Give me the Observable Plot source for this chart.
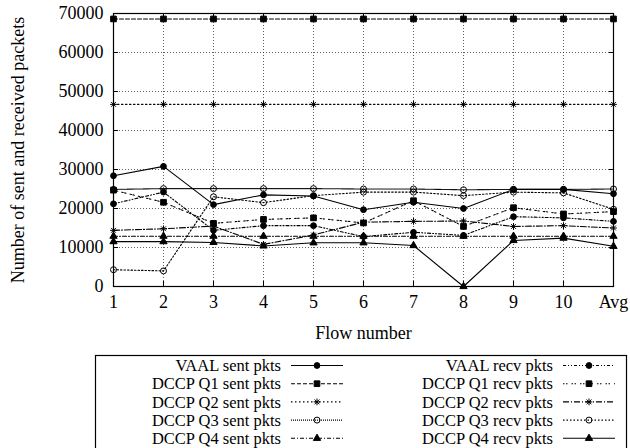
<!DOCTYPE html>
<html><head><meta charset="utf-8">
<script src="https://cdn.jsdelivr.net/npm/d3@7"></script>
<script src="https://cdn.jsdelivr.net/npm/@observablehq/plot@0.6"></script>
<style>
html,body{margin:0;padding:0;background:#fff;}
#chart svg,#legend svg{display:block;}
</style></head><body><div id="chart"></div><div id="legend"></div>
<script>
// ---- data ----
const flows = ["1","2","3","4","5","6","7","8","9","10","Avg"];
const seriesNames = [
  "VAAL sent pkts","DCCP Q1 sent pkts","DCCP Q2 sent pkts","DCCP Q3 sent pkts","DCCP Q4 sent pkts",
  "VAAL recv pkts","DCCP Q1 recv pkts","DCCP Q2 recv pkts","DCCP Q3 recv pkts","DCCP Q4 recv pkts"
];
const vaalSent = [28400, 30800, 21000, 23500, 23200, 19700, 21600, 20000, 24900, 24900, 23800];
const q1Sent   = [68600, 68600, 68600, 68600, 68600, 68600, 68600, 68600, 68600, 68600, 68600];
const q2Sent   = [46700, 46700, 46700, 46700, 46700, 46700, 46700, 46700, 46700, 46700, 46700];
const q3Sent   = [24900, 25100, 25100, 25100, 25100, 25000, 25000, 24800, 24900, 24900, 25000];
const q4Sent   = [12900, 12900, 12900, 12900, 12900, 12900, 12900, 12900, 12900, 12900, 12900];
const vaalRecv = [21200, 24200, 14400, 15600, 15600, 12800, 13900, 13100, 17900, 17600, 16700];
const q1Recv   = [24700, 21600, 16200, 17200, 17600, 16300, 22000, 15400, 20200, 18600, 19200];
const q2Recv   = [14400, 14800, 15500, 10800, 13200, 16500, 16700, 16800, 15400, 15600, 15000];
const q3Recv   = [4300, 4000, 23000, 21500, 23300, 24200, 24200, 23300, 24200, 24000, 19800];
const q4Recv   = [11500, 11500, 11300, 10400, 11200, 11200, 10500, 0, 11800, 12400, 10300];
const yTicks = [0, 10000, 20000, 30000, 40000, 50000, 60000, 70000];
const yTitle = "Number of sent and received packets";
const xTitle = "Flow number";

const allSeries = [vaalSent, q1Sent, q2Sent, q3Sent, q4Sent, vaalRecv, q1Recv, q2Recv, q3Recv, q4Recv];
const rows = [];
allSeries.forEach((vals, i) => flows.forEach((f, j) => rows.push({series: seriesNames[i], flow: f, value: vals[j]})));

// ---- styles ----
const serif = "'Liberation Serif', 'Times New Roman', serif";
const gpStar = {draw(ctx, size) {
  const r = Math.sqrt(size / Math.PI), d = r * Math.SQRT1_2;
  ctx.moveTo(-r, 0); ctx.lineTo(r, 0); ctx.moveTo(0, -r); ctx.lineTo(0, r);
  ctx.moveTo(-d, -d); ctx.lineTo(d, d); ctx.moveTo(-d, d); ctx.lineTo(d, -d);
}};
const sym = {circle: d3.symbolCircle, square: d3.symbolSquare, triangle: d3.symbolTriangle, star: gpStar};
const styles = [
  {dash: null,              symbol: "circle",   filled: true,  r: 2.9},
  {dash: "4,2",             symbol: "square",   filled: true,  r: 3.2},
  {dash: "1.5,2.5",         symbol: "star",     filled: false, r: 3.4},
  {dash: "1,1",             symbol: "circle",   filled: false, r: 3.0},
  {dash: "4,2,1,2",         symbol: "triangle", filled: true,  r: 2.7},
  {dash: "3,2,1,2,1,2",     symbol: "circle",   filled: true,  r: 2.9},
  {dash: "1.5,1.5,1.5,4",   symbol: "square",   filled: true,  r: 3.2},
  {dash: "6,2,1,2",         symbol: "star",     filled: false, r: 3.4},
  {dash: "1.5,2",           symbol: "circle",   filled: false, r: 3.0},
  {dash: null,              symbol: "triangle", filled: true,  r: 2.7}
];

const H = 345;
const seriesMarks = [];
seriesNames.forEach((name, i) => {
  const st = styles[i];
  const data = rows.filter(d => d.series === name);
  seriesMarks.push(Plot.line(data, {x: "flow", y: "value", stroke: "black", strokeWidth: 1.1, strokeDasharray: st.dash}));
  seriesMarks.push(Plot.dot(data, {x: "flow", y: "value", symbol: sym[st.symbol], r: st.r,
    fill: st.filled ? "black" : "none", stroke: "black", strokeWidth: 1}));
});

const chart = Plot.plot({
  width: 630, height: H,
  marginLeft: 113, marginRight: 17, marginTop: 13, marginBottom: H - 286,
  style: {fontFamily: serif, fontSize: "18px", color: "black", background: "white"},
  x: {type: "point", domain: flows, padding: 0},
  y: {domain: [0, 70000]},
  marks: [
    Plot.gridY(yTicks.slice(1, -1), {stroke: "#222", strokeOpacity: 0.9, strokeWidth: 0.8, strokeDasharray: "1,2"}),
    Plot.gridX(flows.slice(1, -1), {stroke: "#222", strokeOpacity: 0.9, strokeWidth: 0.8, strokeDasharray: "1,2"}),
    ...seriesMarks,
    Plot.frame({stroke: "black", strokeWidth: 1.2}),
    Plot.axisY(yTicks, {anchor: "left", tickSize: -5, tickPadding: 15, label: null, tickFormat: d => String(d)}),
    Plot.axisY(yTicks, {anchor: "right", tickSize: -5, tickFormat: () => "", label: null}),
    Plot.axisX(flows, {anchor: "bottom", tickSize: -5, tickPadding: 14, label: null}),
    Plot.axisX(flows, {anchor: "top", tickSize: -5, tickFormat: () => "", label: null}),
    Plot.text([yTitle], {text: d => d, frameAnchor: "left", rotate: -90, dx: -95, lineAnchor: "middle", textAnchor: "middle"}),
    Plot.text([xTitle], {text: d => d, frameAnchor: "bottom", dy: 47, lineAnchor: "middle"})
  ]
});
document.getElementById("chart").appendChild(chart);

// ---- legend ----
const lg = d3.select("#legend").append("svg").attr("width", 630).attr("height", 448 - H)
  .style("font-family", serif).style("font-size", "16.5px");
lg.append("rect").attr("x", 95.5).attr("y", 10.5).attr("width", 531).attr("height", 200)
  .attr("fill", "none").attr("stroke", "black").attr("stroke-width", 1.2);
const cols = [{tr: 281, x1: 291, x2: 343}, {tr: 553, x1: 563, x2: 615}];
seriesNames.forEach((name, i) => {
  const c = cols[Math.floor(i / 5)], row = i % 5, y = 20.5 + row * 18.2;
  const st = styles[i];
  lg.append("text").attr("x", c.tr).attr("y", y).attr("text-anchor", "end").attr("dy", "0.34em").text(name);
  lg.append("line").attr("x1", c.x1).attr("x2", c.x2).attr("y1", y).attr("y2", y)
    .attr("stroke", "black").attr("stroke-width", 1.1).attr("stroke-dasharray", st.dash);
  lg.append("path").attr("transform", `translate(${(c.x1 + c.x2) / 2},${y})`)
    .attr("d", d3.symbol(sym[st.symbol], Math.PI * st.r * st.r)())
    .attr("fill", st.filled ? "black" : "none").attr("stroke", "black");
});
</script></body></html>
